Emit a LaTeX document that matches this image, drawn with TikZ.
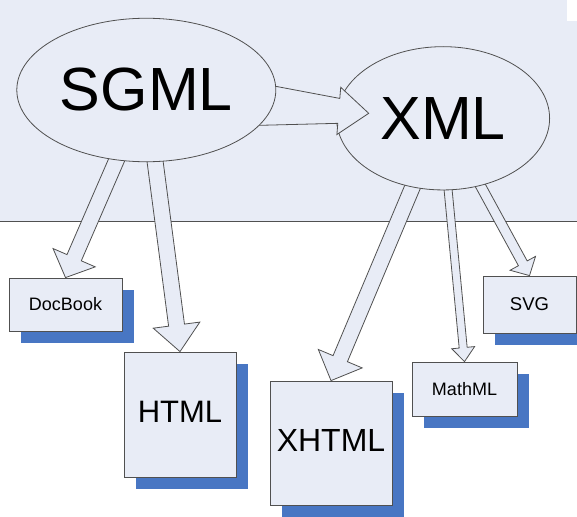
\documentclass[tikz,border=0pt]{standalone}
\usepackage{fontspec}
\setmainfont{Liberation Sans}
\usetikzlibrary{shapes.geometric, shadows, calc}

\definecolor{paleblue}{HTML}{E8ECF6}
\definecolor{shadeblue}{HTML}{4876C3}
\definecolor{edgegray}{HTML}{505050}

\pgfdeclarelayer{back}
\pgfdeclarelayer{links}
\pgfdeclarelayer{under}
\pgfsetlayers{back,links,under,main}

\newcommand{\blockarrow}[6]{%
    \path ($(#1)!-14pt!(#2)$) coordinate (ba-s) ($(#2)!#6!(#1)$) coordinate (ba-h);
    \draw[hollow] ($(ba-s)!#3!90:(#2)$) -- ($(ba-h)!#4!90:(#2)$) -- ($(ba-h)!#5!90:(#2)$) -- (#2)
        -- ($(ba-h)!#5!-90:(#2)$) -- ($(ba-h)!#4!-90:(#2)$) -- ($(ba-s)!#3!-90:(#2)$) -- cycle;
}

\begin{document}
\begin{tikzpicture}[x=1pt, y=-1pt,
        lang/.style={ellipse, draw=edgegray, line width=.8pt, fill=paleblue, inner sep=0pt, font=\fontsize{61}{61}\selectfont},
        doc/.style={rectangle, draw=edgegray, line width=.8pt, fill=paleblue, inner sep=0pt,
            drop shadow={shadow xshift=12pt, shadow yshift=-12pt, fill=shadeblue, opacity=1}},
        hollow/.style={draw=edgegray, fill=paleblue, line width=.8pt, line join=miter}]
    \useasboundingbox (0,0) rectangle (577,516);

    \begin{pgfonlayer}{back}
        \fill[paleblue] (0,0) rectangle (577,221);
        \fill[white] (567,0) rectangle (577,21);
        \draw[edgegray, line width=.8pt] (0,221) -- (577,221);
    \end{pgfonlayer}

    \node[lang, minimum width=259pt, minimum height=143.5pt] (sgml) at (146.3,90) {SGML};

    \node[doc, minimum width=113pt, minimum height=53pt, font=\fontsize{18}{18}\selectfont] (docbook) at (65.5,304.5) {DocBook};
    \node[doc, minimum width=112pt, minimum height=125pt, text depth=6pt, font=\fontsize{31}{31}\selectfont] (html) at (180,414.5) {HTML};
    \node[doc, minimum width=122pt, minimum height=124pt, text depth=5pt, font=\fontsize{32}{32}\selectfont] (xhtml) at (331,443) {XHTML};
    \node[doc, minimum width=105pt, minimum height=54pt, font=\fontsize{18}{18}\selectfont] (mathml) at (464.5,389) {MathML};
    \node[doc, minimum width=93pt, minimum height=57pt, font=\fontsize{18.5}{18.5}\selectfont] (svg) at (529.5,304.5) {SVG};

    \begin{pgfonlayer}{under}
        \node[lang, minimum width=213pt, minimum height=143.3pt] (xml) at (443.1,118.3) {XML};
        \coordinate (xmltip) at ($(xml.west)+(32.5,-5)$);
        \blockarrow{sgml.-7.5}{xmltip}{21pt}{12.5pt}{23.7pt}{30pt}
    \end{pgfonlayer}

    \begin{pgfonlayer}{links}
        \blockarrow{sgml.-113}{docbook.north}{7.8pt}{7.8pt}{23pt}{21.7pt}
        \blockarrow{sgml.-83}{html.north}{8pt}{8pt}{23.5pt}{26.7pt}
        \blockarrow{xml.-114}{xhtml.north}{7.8pt}{7.8pt}{23.8pt}{23.8pt}
        \blockarrow{xml.-86.2}{mathml.north}{4pt}{4pt}{11.5pt}{14pt}
        \blockarrow{xml.-61.2}{svg.north}{5pt}{5pt}{14.5pt}{14pt}
    \end{pgfonlayer}
\end{tikzpicture}
\end{document}
